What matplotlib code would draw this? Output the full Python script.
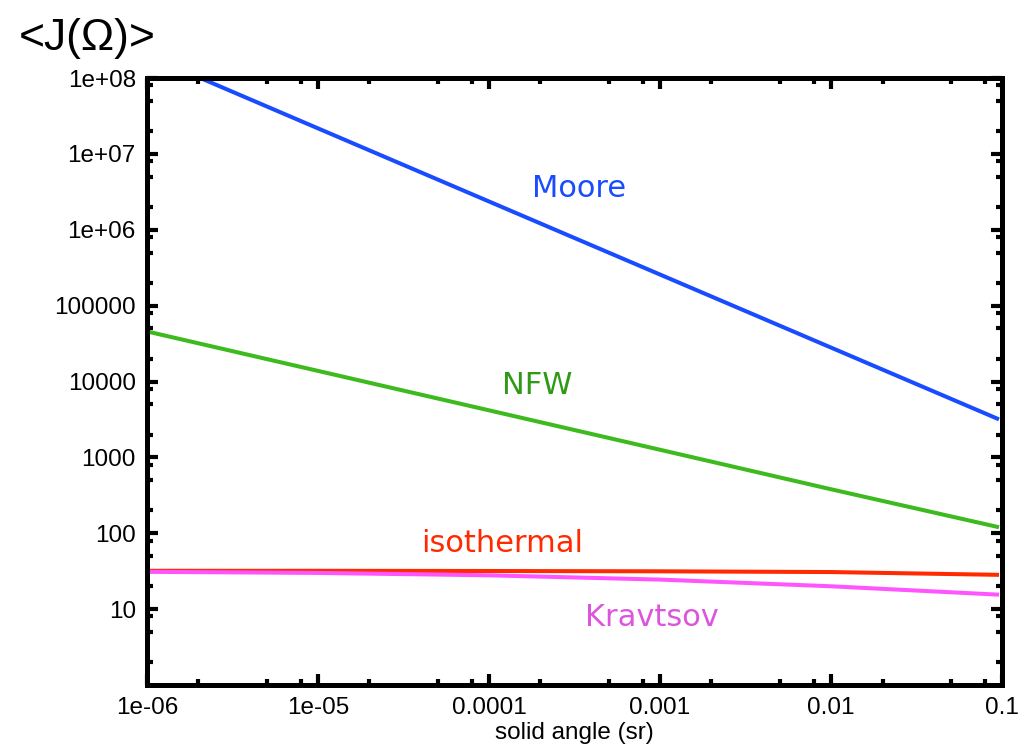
import numpy as np
import matplotlib
matplotlib.use('Agg')
import matplotlib.pyplot as plt
from matplotlib.ticker import LogLocator, NullFormatter

# angle solide (sr) et <J> pour chaque profil de densité
omega = [1e-6, 1e-5, 1e-4, 1e-3, 1e-2, 0.096]
j_moore = [2.0e8, 2.17e7, 2.36e6, 2.57e5, 2.80e4, 3170]
j_nfw = [45700, 13800, 4170, 1260, 380, 120]
j_iso = [32.0, 32.0, 31.8, 31.5, 30.8, 28.3]
j_krav = [31.0, 30.0, 27.9, 24.5, 20.0, 15.5]

xticks = [1e-6, 1e-5, 1e-4, 1e-3, 1e-2, 1e-1]
xtick_labels = ['1e-06', '1e-05', '0.0001', '0.001', '0.01', '0.1']
yticks = [10, 100, 1000, 1e4, 1e5, 1e6, 1e7, 1e8]
ytick_labels = ['10', '100', '1000', '10000', '100000', '1e+06', '1e+07', '1e+08']

fig = plt.figure(figsize=(10.25, 7.51), dpi=100)
ax = fig.add_axes((0.1434, 0.0879, 0.8342, 0.8082))

lw = 2.9
ax.plot(omega, j_moore, color='#1a4cff', lw=lw, solid_capstyle='butt')
ax.plot(omega, j_nfw, color='#3cba1e', lw=lw, solid_capstyle='butt')
ax.plot(omega, j_iso, color='#ff2a00', lw=lw, solid_capstyle='butt')
ax.plot(omega, j_krav, color='#ff55ff', lw=lw, solid_capstyle='butt')

ax.set_xscale('log')
ax.set_yscale('log')
ax.set_xlim(1e-6, 1e-1)
ax.set_ylim(1, 1e8)

ax.set_xticks(xticks)
ax.set_xticklabels(xtick_labels)
ax.set_yticks(yticks)
ax.set_yticklabels(ytick_labels)
for axis in (ax.xaxis, ax.yaxis):
    axis.set_minor_locator(LogLocator(base=10, subs=[2, 5, 8], numticks=20))
    axis.set_minor_formatter(NullFormatter())

ax.tick_params(which='both', direction='in', top=True, right=True, width=3, color='black')
ax.tick_params(which='major', length=8, pad=8, labelsize=17.5)
ax.tick_params(axis='x', which='major', pad=9)
ax.tick_params(which='minor', length=4)
for lab in ax.get_xticklabels() + ax.get_yticklabels():
    lab.set_family('Liberation Sans')
for sp in ax.spines.values():
    sp.set_linewidth(3.6)

ax.set_xlabel('solid angle (sr)', family='Liberation Sans', fontsize=17.5, labelpad=2)

fig.text(0.018, 1 - 50/751, '<J(\u03a9)>', family='Liberation Sans', fontsize=32, va='baseline')

lab_kw = dict(transform=ax.transAxes, ha='center', va='baseline', family='DejaVu Sans', fontsize=22)
ax.text(0.505, 0.804, 'Moore', color='#1a4cff', **lab_kw)
ax.text(0.456, 0.479, 'NFW', color='#2e9a16', **lab_kw)
ax.text(0.415, 0.219, 'isothermal', color='#ff2a00', **lab_kw)
ax.text(0.590, 0.097, 'Kravtsov', color='#dd55dd', **lab_kw)

fig.savefig('out.png', dpi=100)
